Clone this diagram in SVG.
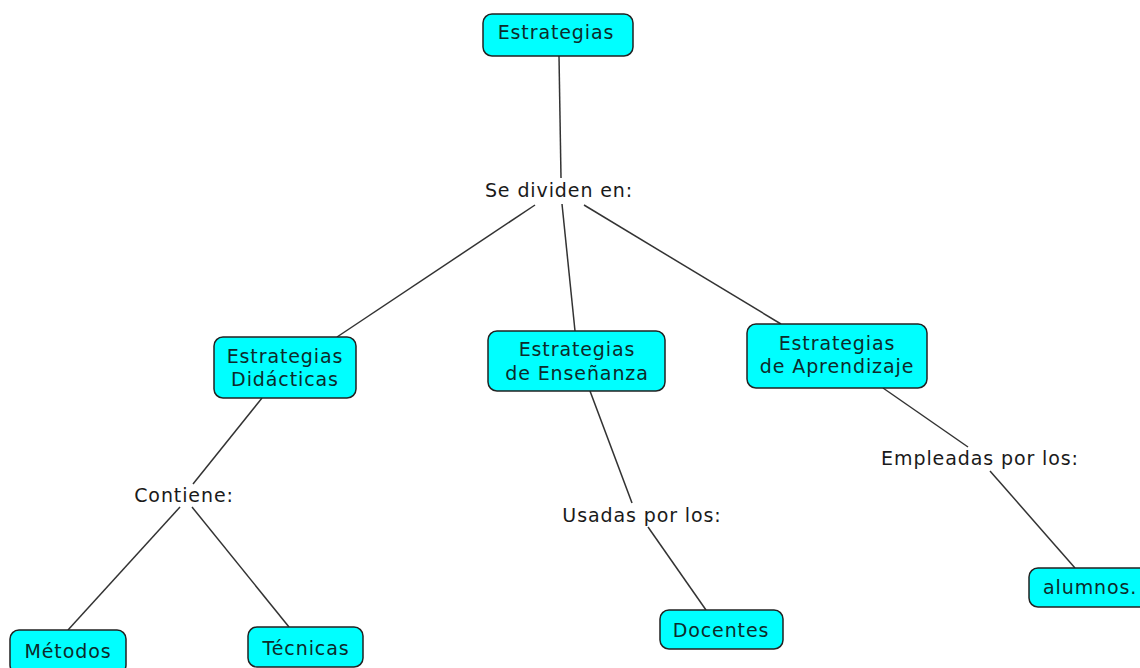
<svg xmlns="http://www.w3.org/2000/svg" width="1140" height="668" viewBox="0 0 1140 668">
<style>
.box{fill:#00ffff;stroke:#222;stroke-width:1.5}
.nt{font-family:"DejaVu Sans",Verdana,sans-serif;font-size:19px;letter-spacing:0.9px;fill:#0d2b2b;text-anchor:middle}
.lt{font-family:"DejaVu Sans",Verdana,sans-serif;font-size:19px;letter-spacing:0.9px;fill:#1a1a1a;text-anchor:middle}
.c{stroke:#333;stroke-width:1.5;fill:none}
</style>
<rect width="1140" height="668" fill="#fff"/>
<g id="connectors">
<line class="c" x1="559" y1="56" x2="561" y2="178"/>
<line class="c" x1="535" y1="205" x2="337" y2="337"/>
<line class="c" x1="562" y1="204" x2="575" y2="331"/>
<line class="c" x1="584" y1="205" x2="781" y2="324"/>
<line class="c" x1="262" y1="398" x2="193" y2="484"/>
<line class="c" x1="180" y1="507" x2="68" y2="630"/>
<line class="c" x1="192" y1="507" x2="289" y2="627"/>
<line class="c" x1="590" y1="391" x2="632" y2="503"/>
<line class="c" x1="648" y1="527" x2="706" y2="610"/>
<line class="c" x1="883" y1="388" x2="968" y2="447"/>
<line class="c" x1="990" y1="471" x2="1075" y2="568"/>
</g>
<g id="lbl-se-dividen"><text class="lt" x="559" y="197">Se dividen en:</text></g>
<g id="lbl-contiene"><text class="lt" x="184" y="502">Contiene:</text></g>
<g id="lbl-usadas"><text class="lt" x="642" y="522">Usadas por los:</text></g>
<g id="lbl-empleadas"><text class="lt" x="980" y="465">Empleadas por los:</text></g>
<g id="n-estrategias"><rect class="box" x="483" y="14" width="150" height="42" rx="9"/><text class="nt" x="556" y="39">Estrategias</text></g>
<g id="n-didacticas"><rect class="box" x="214" y="337" width="142" height="61" rx="9"/><text class="nt" x="285" y="363">Estrategias</text><text class="nt" x="285" y="386">Didácticas</text></g>
<g id="n-ensenanza"><rect class="box" x="488" y="331" width="177" height="60" rx="9"/><text class="nt" x="577" y="356">Estrategias</text><text class="nt" x="577" y="380">de Enseñanza</text></g>
<g id="n-aprendizaje"><rect class="box" x="747" y="324" width="180" height="64" rx="9"/><text class="nt" x="837" y="350">Estrategias</text><text class="nt" x="837" y="373">de Aprendizaje</text></g>
<g id="n-metodos"><rect class="box" x="10" y="630" width="116" height="44" rx="9"/><text class="nt" x="68" y="658">Métodos</text></g>
<g id="n-tecnicas"><rect class="box" x="248" y="627" width="115" height="40" rx="9"/><text class="nt" x="306" y="655">Técnicas</text></g>
<g id="n-docentes"><rect class="box" x="660" y="610" width="123" height="39" rx="9"/><text class="nt" x="721" y="637">Docentes</text></g>
<g id="n-alumnos"><rect class="box" x="1029" y="568" width="125" height="39" rx="9"/><text class="nt" x="1043" y="594" style="text-anchor:start">alumnos.</text></g>
</svg>
